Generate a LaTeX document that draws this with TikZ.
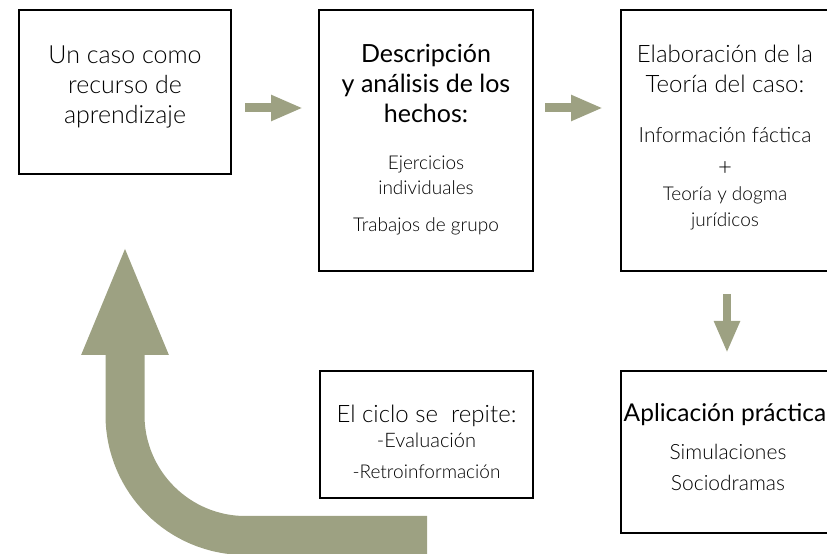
\documentclass[tikz,border=0pt]{standalone}
\usepackage{fontspec}
\setmainfont{Lato Light}
\newfontfamily\medfont{Lato}
\usetikzlibrary{arrows.meta,positioning}
\definecolor{sage}{RGB}{157,161,130}
\newcommand\subtxt{\fontsize{19}{19}\selectfont}
\tikzset{
  stage/.style={draw, line width=2pt, inner sep=0pt},
  txt/.style={align=center, inner sep=0pt, font=\fontsize{24}{30}\selectfont},
  flow/.style={draw=sage, line width=9pt, -{Triangle[length=32pt,width=24pt]}}
}
\begin{document}
\begin{tikzpicture}[x=1pt,y=1pt]
\useasboundingbox (0,0) rectangle (827,554);
% frames
\node[stage, minimum width=212pt, minimum height=164pt] (case) at (125,462) {};
\node[stage, minimum width=214pt, minimum height=261pt] (desc) at (426,413.5) {};
\node[stage, minimum width=208pt, minimum height=261pt] (theory) at (725,413.5) {};
\node[stage, minimum width=213pt, minimum height=127pt] (cycle) at (426.5,119.5) {};
\node[stage, minimum width=214pt, minimum height=162pt] (apply) at (728,102) {};
% texts
\node[txt, font=\fontsize{25}{30}\selectfont] (casetxt) at (125,467.5) {Un caso como\\recurso de\\aprendizaje};
\node[txt] (desctxt) at (426,414) {{\medfont\fontsize{25}{30}\selectfont Descripción}\\{\medfont\fontsize{25}{30}\selectfont y análisis de los}\\{\medfont\fontsize{25}{30}\selectfont hechos:}\\[17pt]
  {\subtxt Ejercicios}\\[-5pt]{\subtxt individuales}\\[7pt]{\subtxt Trabajos de grupo}};
\node[txt] (theorytxt) at (725,416) {Elaboración de la\\Teoría del caso:\\[20pt]{\fontsize{21}{21}\selectfont Información fáctica}\\[3pt]+\\[-5pt]
  {\subtxt Teoría y dogma}\\[-4pt]{\subtxt jurídicos}};
\node[txt, font=\fontsize{24}{28}\selectfont] (cycletxt) at (426.5,112) {El ciclo se\ \ repite:\\[-3pt]{\fontsize{20}{20}\selectfont -Evaluación}\\[3pt]{\subtxt -Retroinformación}};
\node[txt, font=\fontsize{24.5}{31}\selectfont] (applytxt) at (725,106.5) {{\medfont Aplicación práctica}\\[7pt]{\fontsize{21}{21}\selectfont\hspace{6pt}Simulaciones}\\{\fontsize{21}{21}\selectfont\hspace{6pt}Sociodramas}};
% arrows
\draw[flow, shorten <=13pt, shorten >=15pt] ([yshift=-16pt]case.east) -- ([yshift=-16pt]case.east -| desc.west);
\draw[flow, shorten <=11pt, shorten >=17pt] ([yshift=32.5pt]desc.east) -- ([yshift=32.5pt]desc.east -| theory.west);
\draw[flow, line width=8pt, shorten <=22pt, shorten >=17pt] ([xshift=2pt]theory.south) -- ([xshift=2pt]theory.south |- apply.north);
\coordinate (loopstart) at (427,18.5);
\draw[draw=sage, line width=39pt, -{Triangle[length=112pt,width=78pt]}, shorten >=68pt]
  (loopstart) -- (245.5,18.5) arc[start angle=270, end angle=180, radius=120.5] -- (case.south);
\end{tikzpicture}
\end{document}
